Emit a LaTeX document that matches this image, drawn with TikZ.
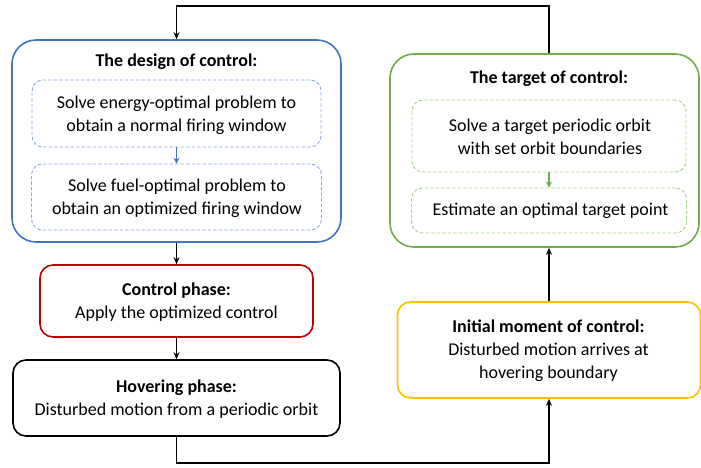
\documentclass[tikz,border=0pt]{standalone}
\usepackage{fontspec}
\setmainfont{Carlito}
\usetikzlibrary{arrows.meta}
\definecolor{cblue}{HTML}{4472C4}
\definecolor{cblueL}{HTML}{8FAADC}
\definecolor{cgreen}{HTML}{70AD47}
\definecolor{cgreenL}{HTML}{A9D18E}
\definecolor{cred}{HTML}{C00000}
\definecolor{cyellow}{HTML}{FFC000}
\tikzset{
  outerbox/.style={draw, line width=1.6pt, rounded corners=24pt, inner sep=0pt},
  phasebox/.style={draw, line width=1.6pt, rounded corners=13pt, inner sep=0pt},
  innerbox/.style={draw, line width=0.9pt, rounded corners=11pt, inner sep=0pt, dash pattern=on 3.5pt off 2pt},
  txt/.style={align=center, inner sep=0pt, font=\fontsize{18}{23}\selectfont},
  conn/.style={line width=1.4pt, -{Stealth[length=7pt,width=6pt]}},
  innerconn/.style={line width=1.4pt, -{Stealth[length=6pt,width=6pt]}},
}
\begin{document}
\begin{tikzpicture}[x=1pt,y=-1pt]
\useasboundingbox (0,0) rectangle (701,468);
% blue design box
\node[outerbox, draw=cblue, minimum width=329pt, minimum height=202pt] (design) at (176.5,141) {};
\node[txt, font=\fontsize{18}{23}\selectfont\bfseries] (designT) at (176.5,62) {The design of control:};
\node[innerbox, draw=cblueL, minimum width=289pt, minimum height=67pt] (d1) at (176.5,113.5) {};
\node[txt] (d1t) at (176.5,115) {Solve energy-optimal problem to\\obtain a normal firing window};
\node[innerbox, draw=cblueL, minimum width=290pt, minimum height=66pt] (d2) at (176.5,197) {};
\node[txt] (d2t) at (177,198) {Solve fuel-optimal problem to\\obtain an optimized firing window};
\draw[innerconn, draw=cblue] (d1.south) -- (d2.north);
% red control phase
\node[phasebox, draw=cred, minimum width=273pt, minimum height=72pt] (ctrl) at (176.5,301) {};
\node[txt] (ctrlt) at (176.5,302) {\textbf{Control phase:}\\Apply the optimized control};
% black hovering phase
\node[phasebox, draw=black, minimum width=327pt, minimum height=76pt] (hover) at (176.5,398) {};
\node[txt] (hovert) at (176.5,399.5) {\textbf{Hovering phase:}\\Disturbed motion from a periodic orbit};
% yellow initial moment
\node[phasebox, draw=cyellow, minimum width=303pt, minimum height=96pt] (init) at (549,350) {};
\node[txt] (initt) at (548.5,351) {\textbf{Initial moment of control:}\\Disturbed motion arrives at\\hovering boundary};
% green target box
\node[outerbox, draw=cgreen, minimum width=309pt, minimum height=193pt] (target) at (544.5,150.5) {};
\node[txt, font=\fontsize{18}{23}\selectfont\bfseries] (targetT) at (549,79) {The target of control:};
\node[innerbox, draw=cgreenL, minimum width=274pt, minimum height=72pt] (t1) at (549,136) {};
\node[txt] (t1t) at (550,137) {Solve a target periodic orbit\\with set orbit boundaries};
\node[innerbox, draw=cgreenL, minimum width=275pt, minimum height=45pt] (t2) at (549,210.5) {};
\node[txt] (t2t) at (550.5,210.5) {Estimate an optimal target point};
\draw[innerconn, draw=cgreen] (t1.south) -- (t2.north);
% connectors
\coordinate (tr) at (549,6);
\coordinate (tl) at (176.5,6);
\coordinate (bl) at (176.5,463);
\coordinate (br) at (549,463);
\draw[conn] (target.north -| tr) -- (tr) -- (tl) -- (design.north);
\draw[conn] (design.south) -- (ctrl.north);
\draw[conn] (ctrl.south) -- (hover.north);
\draw[conn] (hover.south) -- (bl) -- (br) -- (init.south);
\draw[conn] (init.north) -- (target.south -| init.north);
\end{tikzpicture}
\end{document}
